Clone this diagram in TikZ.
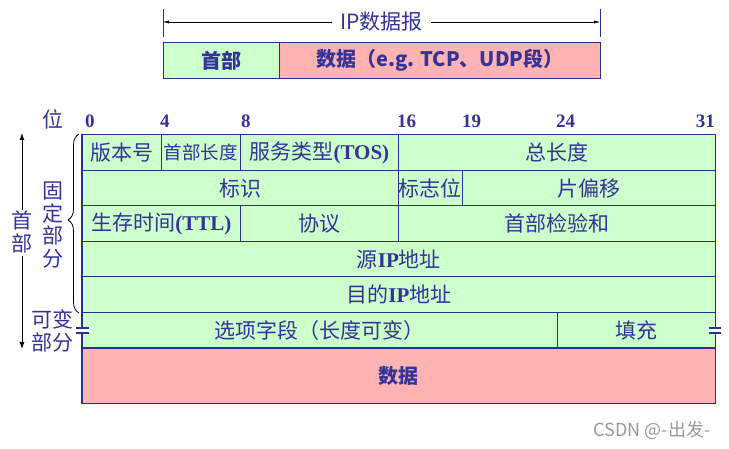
\documentclass[tikz,border=0pt]{standalone}
\usepackage{fontspec}
\setmainfont{Liberation Serif}
\newfontfamily\cjk{Noto Sans CJK SC}
\usetikzlibrary{decorations.pathreplacing,arrows.meta}
\definecolor{ipblue}{RGB}{51,51,153}
\definecolor{ipline}{RGB}{40,50,140}
\definecolor{ipgreen}{RGB}{204,255,204}
\definecolor{ippink}{RGB}{255,179,179}
\newcommand{\lat}[1]{{\rmfamily\bfseries #1}}

\begin{document}
\begin{tikzpicture}[x=1pt, y=-1pt,
    cell/.style={draw=ipline, fill=ipgreen, line width=0.8pt, inner sep=0pt, anchor=north west,
      minimum height=35.5pt, text=ipblue, font=\cjk\fontsize{21}{23}\selectfont},
    bitnum/.style={text=ipblue, inner sep=0pt, anchor=base west, font=\rmfamily\bfseries\fontsize{19}{20}\selectfont},
    side/.style={text=ipblue, inner sep=0pt, align=center, font=\cjk\fontsize{21}{22.5}\selectfont},
    tip/.style={-{Latex[length=7pt,width=5pt]}}]
    \useasboundingbox (0,0) rectangle (729,449);

    % Datagram overview
    \coordinate (dgl) at (163,22);
    \coordinate (dgr) at (600,22);
    \draw[ipline, line width=0.8pt] (163,9) -- (163,37) (600,9) -- (600,37);
    \draw[{Latex[length=6pt,width=3pt]}-{Latex[length=6pt,width=3pt]}, thin] (dgl) -- node[fill=white, inner xsep=8pt, text=ipblue, font=\cjk\fontsize{21}{22}\selectfont] (dglabel) {IP数据报} (dgr);
    \node[cell, minimum width=116pt, minimum height=36pt, font=\cjk\bfseries\fontsize{20}{22}\selectfont] (dghead) at (163,42) {首部};
    \node[cell, fill=ippink, minimum width=321pt, minimum height=36pt, font=\cjk\bfseries\fontsize{20}{22}\selectfont] (dgdata) at (279,42) {数据（e.g. TCP、UDP段）};

    % Bit positions
    \node[side, anchor=base] (weilabel) at (53,128) {位};
    \foreach \b/\x in {0/85,4/160,8/241,16/397,19/462,24/556}
      \node[bitnum] (bit\b) at (\x,128) {\b};
    \node[bitnum, anchor=base east] (bit31) at (715,128) {31};

    % Header fields
    \node[cell, minimum width=79pt] (ver) at (82,134.5) {版本号};
    \node[cell, minimum width=79pt, font=\cjk\fontsize{18.5}{20}\selectfont] (hlen) at (161,134.5) {首部长度};
    \node[cell, minimum width=158pt] (tos) at (240,134.5) {服务类型\lat{(TOS)}};
    \node[cell, minimum width=317pt] (tlen) at (398,134.5) {总长度};

    \node[cell, minimum width=316pt] (ident) at (82,170) {标识};
    \node[cell, minimum width=64pt] (flags) at (398,170) {标志位};
    \node[cell, minimum width=253pt] (frag) at (462,170) {片偏移};

    \node[cell, minimum width=158pt] (ttl) at (82,205.5) {生存时间\lat{(TTL)}};
    \node[cell, minimum width=158pt] (proto) at (240,205.5) {协议};
    \node[cell, minimum width=317pt] (csum) at (398,205.5) {首部检验和};

    \node[cell, minimum width=633pt] (src) at (82,241) {源\lat{IP}地址};
    \node[cell, minimum width=633pt] (dst) at (82,276.5) {目的\lat{IP}地址};

    \node[cell, minimum width=475pt] (opt) at (82,312) {选项字段（长度可变）};
    \node[cell, minimum width=158pt] (pad) at (557,312) {填充};

    \node[cell, fill=ippink, minimum width=633pt, minimum height=55.5pt, font=\cjk\bfseries\fontsize{20}{22}\selectfont] (data) at (82,347.5) {数据};

    % Frame and data separator
    \draw[ipline, line width=1.3pt] (ver.north west) rectangle (data.south east);
    \draw[ipline, line width=2pt] (opt.south west) -- (pad.south east);

    % Variable length marks
    \fill[white] (76,328.5) rectangle (89,332.5);
    \fill[white] (709,328.5) rectangle (721,332.5);
    \draw[ipline, line width=1.2pt] (76,328) -- (89,328) (76,333) -- (89,333);
    \draw[ipline, line width=1.2pt] (709,328) -- (721,328) (709,333) -- (721,333);

    % Side labels
    \coordinate (hdtop) at (22,133);
    \coordinate (hdbot) at (22,349);
    \draw[tip, line width=0.9pt] (22,210) coordinate (hdup) -- (hdtop);
    \draw[tip, line width=0.9pt] (22,256) coordinate (hddown) -- (hdbot);
    \node[side] (hdlabel) at (22,232) {首\\部};
    \draw[decorate, decoration={brace, amplitude=11pt, aspect=0.52}, line width=0.8pt] (79,313) -- (79,134);
    \node[side] (fixlabel) at (53,225) {固\\定\\部\\分};
    \node[side, font=\cjk\fontsize{21}{23}\selectfont] (varlabel) at (52,331) {可变\\部分};

    % Watermark
    \node[text=black!40, font=\cjk\fontsize{18}{19}\selectfont] (mark) at (652,430) {CSDN @-出发-};
\end{tikzpicture}
\end{document}
